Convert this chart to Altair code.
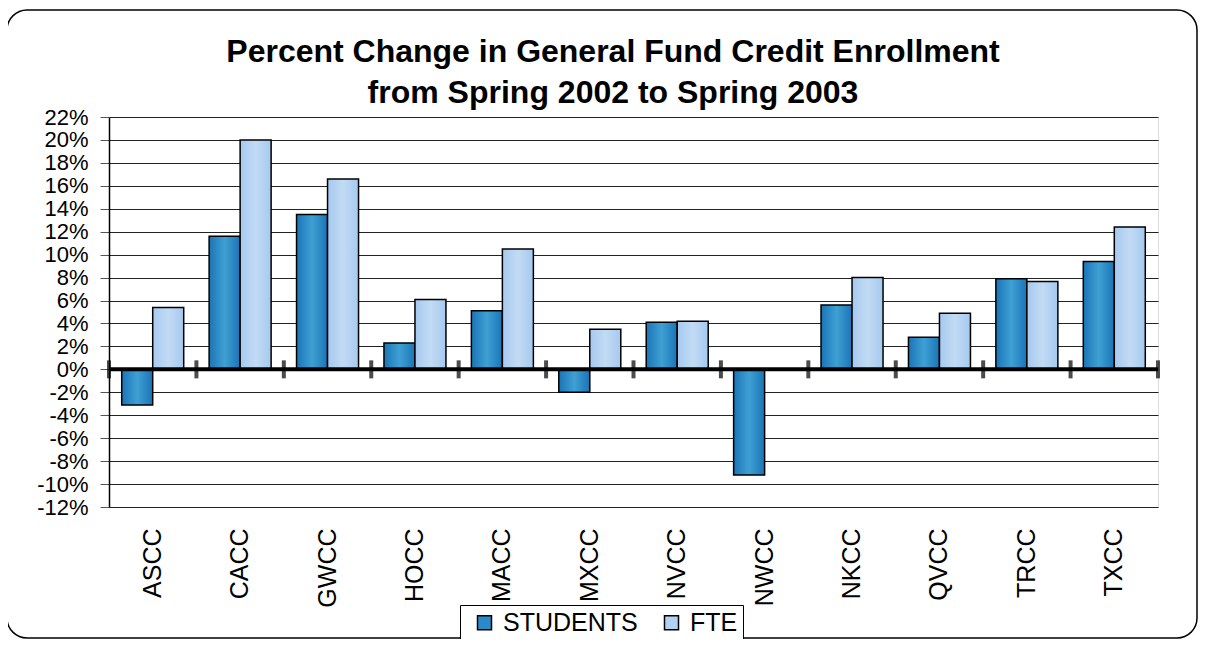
import altair as alt
import pandas as pd

colleges = ["ASCC", "CACC", "GWCC", "HOCC", "MACC", "MXCC", "NVCC", "NWCC", "NKCC", "QVCC", "TRCC", "TXCC"]
students = [-3.1, 11.6, 13.5, 2.3, 5.1, -2.0, 4.1, -9.2, 5.6, 2.8, 7.9, 9.4]
fte = [5.4, 20.0, 16.6, 6.1, 10.5, 3.5, 4.2, None, 8.0, 4.9, 7.65, 12.4]
series = ["STUDENTS", "FTE"]
y_ticks = list(range(-12, 23, 2))
title_lines = ["Percent Change in General Fund Credit Enrollment", "from Spring 2002 to Spring 2003"]

rows = []
for c, s, f in zip(colleges, students, fte):
    rows.append({"college": c, "series": "STUDENTS", "value": s})
    rows.append({"college": c, "series": "FTE", "value": f})
df = pd.DataFrame(rows)

W, H = 1049, 390
FONT = "Liberation Sans"

grad_students = alt.LinearGradient(
    gradient="linear", x1=0, x2=1, y1=0, y2=0,
    stops=[alt.GradientStop(offset=0, color="#1A74B6"),
           alt.GradientStop(offset=0.5, color="#3FA0D4"),
           alt.GradientStop(offset=1, color="#1A74B6")])
grad_fte = alt.LinearGradient(
    gradient="linear", x1=0, x2=1, y1=0, y2=0,
    stops=[alt.GradientStop(offset=0, color="#A6C9EF"),
           alt.GradientStop(offset=0.5, color="#C2DBF4"),
           alt.GradientStop(offset=1, color="#A6C9EF")])

x_scale = alt.Scale(paddingInner=0, paddingOuter=0)
x_axis = alt.Axis(title=None, labelAngle=270, ticks=False, domain=False, grid=False,
                  labelFontSize=25, labelFont=FONT, labelColor="black", labelPadding=21)
y_scale = alt.Scale(domain=[-12, 22], nice=False, zero=False)
y_axis = alt.Axis(title=None, values=y_ticks, labelExpr="datum.value + '%'",
                  labelOverlap=False, labelBound=False, tickCount=18,
                  tickSize=9, tickColor="#555", labelPadding=12, labelFontSize=22,
                  labelFont=FONT, labelColor="black", grid=True, gridColor="#222",
                  gridWidth=1, domainColor="black", domainWidth=1.5)

x_enc = alt.X("college:N", sort=colleges, scale=x_scale, axis=x_axis)
xoff_enc = alt.XOffset("series:N", sort=series, scale=alt.Scale(paddingOuter=0.41, paddingInner=0))
y_enc = alt.Y("value:Q", scale=y_scale, axis=y_axis)
y_zero = alt.YDatum(0, scale=y_scale, axis=y_axis)

base = alt.Chart(df)

bars_legend = base.mark_bar().encode(
    x=x_enc, xOffset=xoff_enc, y=y_enc,
    color=alt.Color("series:N", sort=series,
                    scale=alt.Scale(domain=series, range=["#2B8BC8", "#B3D2F2"]),
                    legend=alt.Legend(title=None, orient="none", legendX=351, legendY=488,
                                      direction="horizontal", strokeColor="black", padding=5,
                                      labelFontSize=25, labelFont=FONT, labelColor="black",
                                      symbolType="square", symbolSize=196, symbolStrokeColor="black",
                                      symbolStrokeWidth=1.5, symbolOffset=7, columnPadding=14,
                                      labelOffset=6, fillColor="white")),
)

bars_grad = base.mark_bar(stroke="black", strokeWidth=1.5).encode(
    x=x_enc, xOffset=xoff_enc, y=y_enc,
    fill=alt.condition(alt.datum.series == "STUDENTS", alt.value(grad_students), alt.value(grad_fte)),
)

zero_line = alt.Chart(pd.DataFrame({"k": [0]})).mark_rule(color="black", strokeWidth=4).encode(
    y=y_zero
)

ticks = alt.Chart(pd.DataFrame({"college": colleges})).mark_tick(
    orient="vertical", color="black", size=18, thickness=4).encode(
    x=alt.X("college:N", sort=colleges, bandPosition=0, scale=x_scale, axis=x_axis),
    y=y_zero,
)
end_tick = alt.Chart(pd.DataFrame({"k": [0]})).mark_tick(
    orient="vertical", color="black", size=18, thickness=4).encode(
    x=alt.value(W),
    y=y_zero,
)

border = alt.Chart(pd.DataFrame({"k": [0]})).mark_rect(
    fill=None, stroke="black", strokeWidth=1.5, cornerRadius=20).encode(
    x=alt.value(-102), x2=alt.value(1088), y=alt.value(-107), y2=alt.value(521)
)

title1 = alt.Chart(pd.DataFrame({"t": [title_lines[0]]})).mark_text(
    font=FONT, fontSize=32, fontWeight="bold", color="black", align="center", baseline="alphabetic").encode(
    text="t:N", x=alt.value(504), y=alt.value(-55))
title2 = alt.Chart(pd.DataFrame({"t": [title_lines[1]]})).mark_text(
    font=FONT, fontSize=32, fontWeight="bold", color="black", align="center", baseline="alphabetic").encode(
    text="t:N", x=alt.value(504), y=alt.value(-14))

chart = alt.layer(bars_legend, bars_grad, zero_line, ticks, end_tick, border, title1, title2).properties(
    width=W, height=H,
    autosize=alt.AutoSizeParams(type="none"),
    padding={"left": 101, "top": 109, "right": 40, "bottom": 132},
).configure_view(stroke="#222", strokeWidth=1).configure(background="white")

chart.save("out.html", embed_options={"renderer": "svg", "actions": False})
